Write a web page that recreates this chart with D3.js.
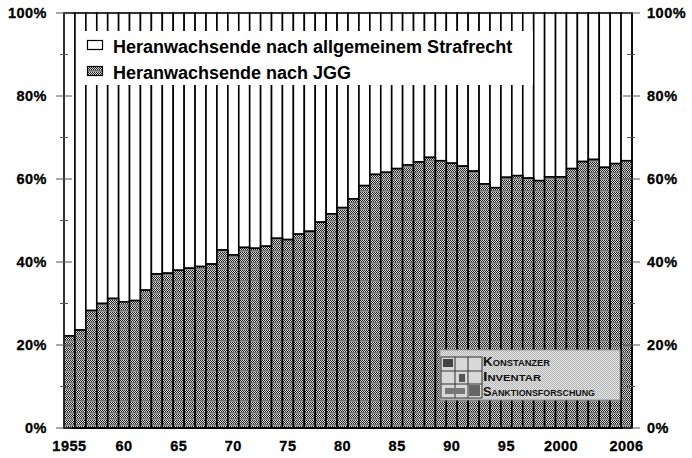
<!DOCTYPE html>
<html><head><meta charset="utf-8">
<script src="https://cdn.jsdelivr.net/npm/d3@7"></script>
<style>
html,body{margin:0;padding:0;background:#fff;}
svg{display:block;}
text{font-family:"Liberation Sans",Arial,sans-serif;}
</style></head>
<body>
<svg id="chart" width="692" height="458"></svg>
<script>
const years = d3.range(1955, 2007);
const jggShare = [22.2,23.6,28.3,30.0,31.2,30.4,30.7,33.2,37.1,37.3,38.0,38.5,38.9,39.5,42.9,41.7,43.5,43.3,43.8,45.7,45.4,46.7,47.4,49.6,51.6,53.1,55.2,58.4,61.1,61.6,62.5,63.4,64.1,65.2,64.4,63.8,63.1,61.9,58.8,57.9,60.4,60.8,60.2,59.6,60.5,60.5,62.5,64.2,64.7,62.8,63.7,64.4];
const seriesNames = ["Heranwachsende nach allgemeinem Strafrecht", "Heranwachsende nach JGG"];
const yTicks = [0,20,40,60,80,100];
const yMinorTicks = [10,30,50,70,90];
const xTickYears = [1955,1960,1965,1970,1975,1980,1985,1990,1995,2000,2006];
const xTickLabels = ["1955","60","65","70","75","80","85","90","95","2000","2006"];
const logoLines = ["Konstanzer","Inventar","Sanktionsforschung"];

const svg = d3.select("#chart");
const pL = 64, pR = 632, pT = 13, pB = 428;

const defs = svg.append("defs");
const pat = defs.append("pattern").attr("id","jgg").attr("patternUnits","userSpaceOnUse")
  .attr("width",2).attr("height",6);
pat.append("rect").attr("width",2).attr("height",6).attr("fill","#808080");
[[0,0],[1,1],[0,2],[1,3]].forEach(([px,py])=>pat.append("rect").attr("x",px).attr("y",py).attr("width",1).attr("height",1).attr("fill","#1e1e1e"));
[[1,0],[0,1],[1,2],[0,3]].forEach(([px,py])=>pat.append("rect").attr("x",px).attr("y",py).attr("width",1).attr("height",1).attr("fill","#dcdcdc"));
pat.append("rect").attr("x",0).attr("y",4).attr("width",2).attr("height",1).attr("fill","#737373");
pat.append("rect").attr("x",0).attr("y",5).attr("width",2).attr("height",1).attr("fill","#929292");

const lp = defs.append("pattern").attr("id","logo").attr("patternUnits","userSpaceOnUse")
  .attr("width",2).attr("height",2);
lp.append("rect").attr("width",2).attr("height",2).attr("fill","#e4e4e4");
lp.append("rect").attr("x",0).attr("y",0).attr("width",1).attr("height",1).attr("fill","#b4b4b4");
lp.append("rect").attr("x",1).attr("y",1).attr("width",1).attr("height",1).attr("fill","#b4b4b4");

const x = d3.scaleBand().domain(years).range([pL,pR]).padding(0);
const y = d3.scaleLinear().domain([0,100]).range([pB,pT]);

const data = years.map((yr,i)=>({year:yr, jgg:jggShare[i]}));

const g = svg.append("g");
g.selectAll("rect.gen").data(data).join("rect").attr("class","gen")
  .attr("x",d=>x(d.year)).attr("width",x.bandwidth())
  .attr("y",y(100)).attr("height",d=>y(d.jgg)-y(100))
  .attr("fill","#fff").attr("stroke","#000").attr("stroke-width",1.6);
g.selectAll("rect.jgg").data(data).join("rect").attr("class","jgg")
  .attr("x",d=>x(d.year)).attr("width",x.bandwidth())
  .attr("y",d=>y(d.jgg)).attr("height",d=>y(0)-y(d.jgg))
  .attr("fill","url(#jgg)").attr("stroke","#000").attr("stroke-width",1.6);

svg.append("line").attr("x1",pL).attr("x2",pL).attr("y1",y(100)).attr("y2",y(0)).attr("stroke","#333").attr("stroke-width",1);
svg.append("line").attr("x1",pR).attr("x2",pR).attr("y1",y(100)).attr("y2",y(0)).attr("stroke","#000").attr("stroke-width",1.5);
svg.append("line").attr("x1",pL).attr("x2",pR).attr("y1",y(0)).attr("y2",y(0)).attr("stroke","#000").attr("stroke-width",2);

const tk = svg.append("g").attr("stroke","#555").attr("stroke-width",1);
yTicks.forEach(v=>{
  tk.append("line").attr("x1",pL-8).attr("x2",pL+8).attr("y1",y(v)).attr("y2",y(v));
  tk.append("line").attr("x1",pR-9).attr("x2",pR+8).attr("y1",y(v)).attr("y2",y(v));
});
yMinorTicks.forEach(v=>{
  tk.append("line").attr("x1",pL-4).attr("x2",pL+4).attr("y1",y(v)).attr("y2",y(v));
  tk.append("line").attr("x1",pR-5).attr("x2",pR+3).attr("y1",y(v)).attr("y2",y(v));
});

const yAxisL = d3.axisLeft(y).tickValues(yTicks).tickFormat(d=>d+"%").tickSize(0).tickPadding(17);
const gl = svg.append("g").attr("transform",`translate(${pL},0)`).call(yAxisL);
const yAxisR = d3.axisRight(y).tickValues(yTicks).tickFormat(d=>d+"%").tickSize(0).tickPadding(15);
const gr = svg.append("g").attr("transform",`translate(${pR},0)`).call(yAxisR);
const xAxis = d3.axisBottom(x).tickValues(xTickYears).tickFormat((d,i)=>xTickLabels[i]).tickSize(0).tickPadding(13);
const gx = svg.append("g").attr("transform",`translate(0,${pB})`).call(xAxis);
[gl,gr,gx].forEach(a=>{
  a.select(".domain").remove();
  a.selectAll("text").attr("font-family","'Liberation Sans',Arial,sans-serif")
    .attr("font-size",14.5).attr("font-weight","bold").attr("fill","#000").attr("letter-spacing","0.5")
    .attr("stroke","#000").attr("stroke-width",0.3);
});

const lg = svg.append("g");
lg.append("rect").attr("x",76).attr("y",31).attr("width",457).attr("height",54).attr("fill","#fff");
const legendY = [45, 71];
seriesNames.forEach((name,i)=>{
  lg.append("rect").attr("x",87.5).attr("y",legendY[i]-4.5).attr("width",15).attr("height",9)
    .attr("fill", i===0 ? "#fff" : "url(#jgg)").attr("stroke","#000").attr("stroke-width",1.2);
  lg.append("text").attr("x",113).attr("y",legendY[i]+7.5).text(name)
    .attr("font-size",18).attr("font-weight","bold").attr("fill","#000");
});

const lb = svg.append("g");
lb.append("rect").attr("x",440).attr("y",350).attr("width",180).attr("height",50)
  .attr("fill","url(#logo)").attr("stroke","#999").attr("stroke-width",1);
const ic = lb.append("g").attr("transform","translate(441,357)");
ic.append("rect").attr("width",41).attr("height",41).attr("fill","#d8d8d8").attr("stroke","#333").attr("stroke-width",1);
[14,27].forEach(p=>{
  ic.append("line").attr("x1",p).attr("x2",p).attr("y1",0).attr("y2",41).attr("stroke","#333");
  ic.append("line").attr("y1",p).attr("y2",p).attr("x1",0).attr("x2",41).attr("stroke","#333");
});
ic.append("rect").attr("x",2).attr("y",2).attr("width",10).attr("height",8).attr("fill","#444");
ic.append("rect").attr("x",18).attr("y",17).attr("width",6).attr("height",8).attr("fill","#555");
ic.append("rect").attr("x",28).attr("y",28).attr("width",11).attr("height",11).attr("fill","#666");
ic.append("rect").attr("x",4).attr("y",31).attr("width",20).attr("height",6).attr("fill","#777");
const logoW = [67, 58, 112];
logoLines.forEach((t,i)=>{
  lb.append("text").attr("x",483).attr("y",366+i*15).text(t)
    .attr("font-family","'DejaVu Sans',sans-serif").attr("font-size",13).attr("font-weight","bold")
    .attr("font-variant","small-caps").attr("fill","#111")
    .attr("textLength",logoW[i]).attr("lengthAdjust","spacingAndGlyphs");
});
</script>
</body></html>
